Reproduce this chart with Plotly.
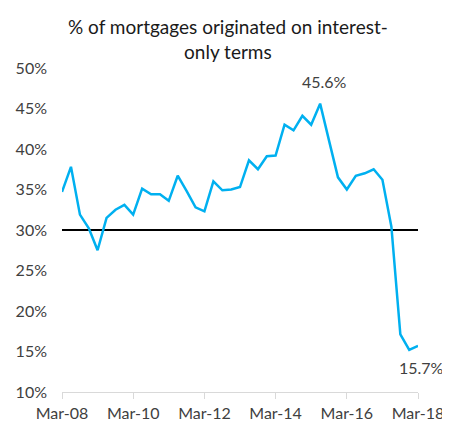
import pandas as pd
import plotly.graph_objects as go

# Part trimestrielle des prêts "interest-only" (en %), de Mar-08 à Mar-18
trimestres = pd.date_range("2008-03-01", "2018-03-01", freq="3MS")
part_io = [
    34.7, 37.8, 31.9, 30.2, 27.5, 31.5, 32.5, 33.1, 31.9, 35.1,
    34.4, 34.4, 33.6, 36.7, 34.8, 32.8, 32.3, 36.0, 34.9, 35.0,
    35.3, 38.6, 37.5, 39.1, 39.2, 43.0, 42.3, 44.1, 43.0, 45.6,
    41.0, 36.5, 35.0, 36.7, 37.0, 37.5, 36.2, 30.4, 17.1, 15.2,
    15.7,
]
seuil = 30

# Étiquettes de l'axe des x
ticks_x = ["Mar-08", "Mar-10", "Mar-12", "Mar-14", "Mar-16", "Mar-18"]
ticks_y = [10, 15, 20, 25, 30, 35, 40, 45, 50]

police = "Lato"
gris = "#404040"

fig = go.Figure()

# Ligne de référence à 30 %
fig.add_trace(go.Scatter(
    x=[trimestres[0], trimestres[-1]], y=[seuil, seuil],
    mode="lines", line=dict(color="black", width=2), hoverinfo="skip"))

# Série principale
fig.add_trace(go.Scatter(
    x=trimestres, y=part_io, mode="lines",
    line=dict(color="#00B0F0", width=2.5)))

# Étiquettes du pic et de la dernière valeur
i_max = part_io.index(max(part_io))
fig.add_annotation(x=trimestres[i_max], y=part_io[i_max], text=f"{part_io[i_max]:.1f}%",
                   showarrow=False, yshift=22, xshift=4,
                   font=dict(family=police, size=16, color=gris))
fig.add_annotation(x=trimestres[-1], y=part_io[-1], text=f"{part_io[-1]:.1f}%",
                   showarrow=False, yshift=-22, xshift=3,
                   font=dict(family=police, size=16, color=gris))

# Titre sur deux lignes (annotation pour maîtriser la position)
fig.add_annotation(xref="paper", yref="paper", x=0.466, y=1.088,
                   xanchor="center", yanchor="middle", showarrow=False,
                   text="% of mortgages originated on interest-<br>only terms",
                   font=dict(family=police, size=19, color="#1a1a1a"))

# la page ajoute une marge de 8 px autour de la figure -> taille réduite d'autant
fig.update_layout(
    width=442, height=416,
    template="plotly_white",
    showlegend=False,
    margin=dict(l=54, r=32, t=60, b=32),
    font=dict(family=police, size=16, color=gris),
)

fig.update_xaxes(
    range=[trimestres[0], trimestres[-1]],
    tickvals=[trimestres[i] for i in range(0, len(trimestres), 8)],
    ticktext=ticks_x,
    showgrid=False, zeroline=False,
    showline=True, linecolor="#d9d9d9", linewidth=1,
    ticks="outside", ticklen=6, tickcolor="#d9d9d9",
    ticklabelstandoff=1, automargin=False,
)

fig.update_yaxes(
    range=[10, 50],
    tickvals=ticks_y,
    ticktext=[f"{v}%" for v in ticks_y],
    showgrid=False, zeroline=False, showline=False,
    ticklabelstandoff=14, automargin=False,
)

fig.write_html("out.html")
